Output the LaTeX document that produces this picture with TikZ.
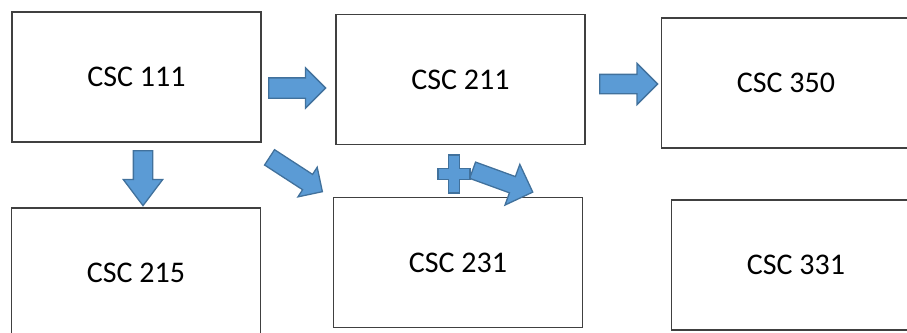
\documentclass[tikz,border=0pt]{standalone}
\usepackage{fontspec}
\setmainfont{Carlito}
\usetikzlibrary{shapes.arrows}

\definecolor{arrowfill}{HTML}{5B9BD5}
\definecolor{arrowline}{HTML}{41719C}
\definecolor{boxline}{HTML}{404040}

\tikzstyle{coursebox}=[rectangle,
                         draw=boxline,
                         line width=1.3pt,
                         inner sep=0pt,
                         minimum width=249pt,
                         minimum height=130pt,
                         font=\fontsize{30}{34}\selectfont,
                         align=center]
\tikzstyle{blockarrow}=[single arrow,
                         draw=arrowline,
                         fill=arrowfill,
                         line width=1.3pt,
                         inner xsep=0pt,
                         anchor=tail,
                         single arrow head indent=0pt]

\begin{document}
\begin{tikzpicture}[x=1pt,y=-1pt]
    \useasboundingbox (0,0) rectangle (907,332);
    \clip (0,0) rectangle (907,332);
    % course boxes
    \node [coursebox] (c111) at (136.5,77) {CSC 111};
    \node [coursebox] (c211) at (460.5,79.5) {CSC 211};
    \node [coursebox] (c350) at (786,83) {CSC 350};
    \node [coursebox] (c215) at (136,273) {CSC 215};
    \node [coursebox] (c231) at (458,262.5) {CSC 231};
    \node [coursebox] (c331) at (796,265) {CSC 331};
    % block arrows
    \node [blockarrow, minimum height=57pt, inner ysep=9.5pt,
           single arrow head extend=10pt] (a111to211) at (268,88) {};
    \node [blockarrow, minimum height=58pt, inner ysep=9pt,
           single arrow head extend=11pt] (a211to350) at (599,84) {};
    \node [blockarrow, minimum height=55pt, inner ysep=9pt,
           single arrow head extend=10pt, single arrow tip angle=74,
           rotate=-90] (a111to215) at (143,150) {};
    \node [blockarrow, minimum height=63pt, inner ysep=8.5pt,
           single arrow head extend=8.5pt, rotate=-33] (a111to231) at (269,157) {};
    \node [blockarrow, minimum height=64pt, inner ysep=8pt,
           single arrow head extend=13pt, rotate=-20] (a231to211) at (472,170) {};
    % plus sign
    \draw [draw=arrowline, fill=arrowfill, line width=1.3pt]
        (448.5,155) -- (459.5,155) -- (459.5,168.5) -- (470,168.5) -- (470,179.5)
        -- (459.5,179.5) -- (459.5,193) -- (448.5,193) -- (448.5,179.5) -- (438,179.5)
        -- (438,168.5) -- (448.5,168.5) -- cycle;
\end{tikzpicture}
\end{document}
